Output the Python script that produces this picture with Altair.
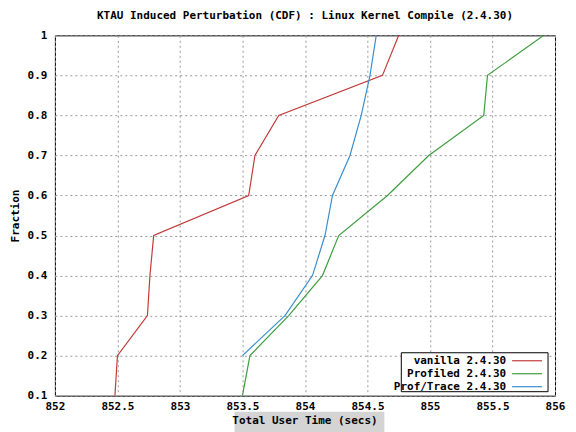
import altair as alt
import pandas as pd

fractions = [0.1, 0.2, 0.3, 0.4, 0.5, 0.6, 0.7, 0.8, 0.9, 1.0]
vanilla = [852.48, 852.50, 852.74, 852.76, 852.79, 853.55, 853.60, 853.79, 854.62, 854.75]
profiled = [853.50, 853.56, 853.87, 854.14, 854.27, 854.66, 854.99, 855.43, 855.46, 855.91]
trace_fractions = [0.2, 0.3, 0.4, 0.5, 0.6, 0.7, 0.8, 0.9, 1.0]
proftrace = [853.50, 853.84, 854.06, 854.16, 854.22, 854.36, 854.45, 854.52, 854.57]

series_names = ["vanilla 2.4.30", "Profiled 2.4.30", "Prof/Trace 2.4.30"]
series_colors = ["#c23b3b", "#3f9e3f", "#3a8fcc"]

x_ticks = [852, 852.5, 853, 853.5, 854, 854.5, 855, 855.5, 856]
y_ticks = [0.1, 0.2, 0.3, 0.4, 0.5, 0.6, 0.7, 0.8, 0.9, 1.0]
x_title = "Total User Time (secs)"

rows = []
for f, v in zip(fractions, vanilla):
    rows.append({"series": series_names[0], "time": v, "fraction": f})
for f, v in zip(fractions, profiled):
    rows.append({"series": series_names[1], "time": v, "fraction": f})
for f, v in zip(trace_fractions, proftrace):
    rows.append({"series": series_names[2], "time": v, "fraction": f})
df = pd.DataFrame(rows)

FONT = "DejaVu Sans Mono"
W, H = 501, 361

lines = alt.Chart(df).mark_line(strokeWidth=1.2, clip=True).encode(
    x=alt.X("time:Q", scale=alt.Scale(domain=[852, 856], nice=False, zero=False),
            axis=alt.Axis(values=x_ticks, title=None, grid=True,
                          gridDash=[2, 3], gridColor="#999999", tickSize=0,
                          labelPadding=5, labelFlush=False, format="~g")),
    y=alt.Y("fraction:Q", scale=alt.Scale(domain=[0.1, 1.0], nice=False, zero=False),
            axis=alt.Axis(values=y_ticks, title="Fraction", grid=True,
                          gridDash=[2, 3], gridColor="#999999", tickSize=0,
                          labelPadding=8, titleX=-34, titleY=H / 2,
                          labelFlush=False, format="~g")),
    color=alt.Color("series:N", scale=alt.Scale(domain=series_names, range=series_colors),
                    legend=None),
    order="fraction:Q",
)

# gray highlight behind x title (as in the reference screenshot)
title_bg = alt.Chart(pd.DataFrame({"a": [0]})).mark_rect(
    fill="#d4d4d4", clip=False).encode(
    x=alt.value(180), x2=alt.value(330), y=alt.value(377), y2=alt.value(400))

x_title_text = alt.Chart(pd.DataFrame({"label": [x_title]})).mark_text(
    align="center", baseline="middle", font=FONT, fontWeight="bold",
    fontSize=11, color="black").encode(
    x=alt.value(W / 2), y=alt.value(386), text="label:N")

# custom legend box (labels left, line samples right)
legend_box = alt.Chart(pd.DataFrame({"a": [0]})).mark_rect(
    fill="white", stroke="black", strokeWidth=1).encode(
    x=alt.value(347), x2=alt.value(494), y=alt.value(318), y2=alt.value(357))

legend_layers = []
for i, (name, col) in enumerate(zip(series_names, series_colors)):
    yy = 326 + 13 * i
    legend_layers.append(
        alt.Chart(pd.DataFrame({"label": [name]})).mark_text(
            align="right", baseline="middle", font=FONT, fontWeight="bold",
            fontSize=11, color="black").encode(
            x=alt.value(452), y=alt.value(yy), text="label:N"))
    legend_layers.append(
        alt.Chart(pd.DataFrame({"a": [0]})).mark_rule(color=col, strokeWidth=1.2).encode(
            x=alt.value(458), x2=alt.value(488), y=alt.value(yy)))

chart = alt.layer(title_bg, x_title_text, lines, legend_box, *legend_layers).properties(
    width=W, height=H,
    title=alt.TitleParams(
        "KTAU Induced Perturbation (CDF) : Linux Kernel Compile (2.4.30)",
        font=FONT, fontSize=11, fontWeight="bold", color="black",
        anchor="middle", offset=8),
    autosize=alt.AutoSizeParams(type="none"),
    padding={"left": 47, "top": 27, "right": 13, "bottom": 36},
).configure_view(stroke="black", strokeWidth=1).configure_axis(
    labelFont=FONT, labelFontSize=11, labelFontWeight="bold", labelColor="black",
    titleFont=FONT, titleFontSize=11, titleFontWeight="bold", titleColor="black",
    domain=False,
)

chart.save("out.html", embed_options={"renderer": "svg", "actions": False})
